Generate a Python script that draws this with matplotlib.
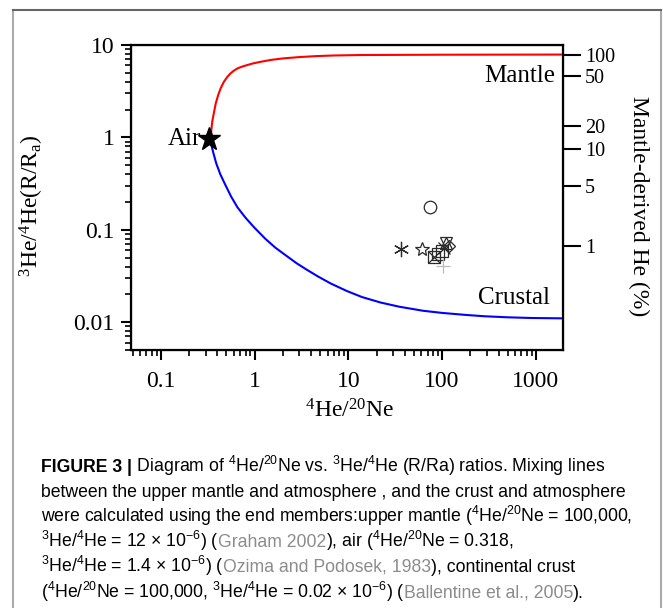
import matplotlib
matplotlib.use('Agg')
import matplotlib.pyplot as plt
from matplotlib.lines import Line2D
from matplotlib.ticker import FixedLocator, NullLocator, FixedFormatter

plt.rcParams['font.family'] = ['Liberation Serif', 'DejaVu Serif']
plt.rcParams['mathtext.fontset'] = 'stix'

# --- Data ---

# mixing line air -> upper mantle (4He/20Ne, R/Ra)
mantle_x = [0.340, 0.345, 0.355, 0.370, 0.385, 0.410, 0.435, 0.470, 0.512, 0.550, 0.598,
            0.660, 0.764, 0.95, 1.16, 1.5, 2.04, 3.0, 4.64, 7.0, 13.4, 100, 1950]
mantle_y = [0.928, 1.2, 1.53, 1.9, 2.34, 2.9, 3.41, 4.0, 4.52, 4.9, 5.26,
            5.6, 5.91, 6.3, 6.58, 6.9, 7.17, 7.4, 7.59, 7.7, 7.79, 7.85, 7.88]

# mixing line air -> crust
crust_x = [0.340, 0.360, 0.390, 0.430, 0.480, 0.560, 0.656, 0.80, 0.99, 1.30, 1.66, 2.20,
           2.80, 3.60, 4.68, 6.5, 9.69, 14, 22.2, 35, 62.5, 100, 176, 280, 491, 900, 1950]
crust_y = [0.889, 0.70, 0.522, 0.40, 0.316, 0.23, 0.175, 0.135, 0.106, 0.080, 0.0642, 0.052,
           0.0435, 0.037, 0.0315, 0.0262, 0.0217, 0.0187, 0.0163, 0.0147, 0.0133, 0.0126,
           0.0120, 0.0116, 0.0113, 0.0111, 0.0110]

air_x, air_y = [0.33], [0.95]

# samples
circle_x, circle_y = [74.5], [0.178]
asterisk_x, asterisk_y = [36.6], [0.062]
openstar_x, openstar_y = [60.8], [0.062]
boxx_x, boxx_y = [82.2], [0.0509]
square_x, square_y = [90.6, 99.3], [0.0552, 0.0591]
hexa_x, hexa_y = [110], [0.0728]
diamond_x, diamond_y = [119.6], [0.067]
cross_x, cross_y = [105], [0.064]
plus_x, plus_y = [101.6], [0.0406]

# right axis: mantle-derived He (%) at R/Ra positions
mantle_pct_pos = [7.79, 4.64, 1.32, 0.74, 0.30, 0.067]
mantle_pct_labels = ['100', '50', '20', '10', '5', '1']

W, H = 663, 608
fig = plt.figure(figsize=(W / 100, H / 100), dpi=100)
fig.patch.set_facecolor('white')

# --- page frame ---
fig.add_artist(Line2D([13 / W, 13 / W], [0, 1 - 10 / H], color='#aaaaaa', lw=1.5))
fig.add_artist(Line2D([661 / W, 661 / W], [0, 1 - 10 / H], color='#aaaaaa', lw=1.5))
fig.add_artist(Line2D([13 / W, 661 / W], [1 - 10 / H, 1 - 10 / H], color='#666666', lw=1.5))

# --- chart ---
ax = fig.add_axes([131 / W, 1 - 350 / H, 432 / W, 305 / H])
ax.set_xscale('log')
ax.set_yscale('log')
ax.set_xlim(0.048, 1950)
ax.set_ylim(0.005, 10)

ax.plot(mantle_x, mantle_y, color='red', lw=1.5)
ax.plot(crust_x, crust_y, color='blue', lw=1.5)
ax.plot(air_x, air_y, marker='*', ms=17, color='black', ls='none', zorder=5)

mk = dict(ls='none', mfc='none', mew=0.9, color='#2a2a2a')
ax.plot(circle_x, circle_y, marker='o', ms=9, **mk)
ax.plot(asterisk_x, asterisk_y, marker=(6, 2, 0), ms=11, **mk)
ax.plot(openstar_x, openstar_y, marker='*', ms=10, **mk)
ax.plot(boxx_x, boxx_y, marker='s', ms=8, **mk)
ax.plot(boxx_x, boxx_y, marker='x', ms=8, **mk)
ax.plot(square_x, square_y, marker='s', ms=8, **mk)
ax.plot(hexa_x, hexa_y, marker='^', ms=8, **mk)
ax.plot(hexa_x, hexa_y, marker='v', ms=8, **mk)
ax.plot(diamond_x, diamond_y, marker='D', ms=6, **mk)
ax.plot(cross_x, cross_y, marker='x', ms=8, **mk)
ax.plot(plus_x, plus_y, marker='+', ms=10, ls='none', mew=0.9, color='#bbbbbb')

ax.text(0.27, 0.97, 'Air', ha='right', va='center', fontsize=18)
ax.text(0.981, 0.900, 'Mantle', transform=ax.transAxes, ha='right', va='center', fontsize=18)
ax.text(0.970, 0.172, 'Crustal', transform=ax.transAxes, ha='right', va='center', fontsize=18)

ax.xaxis.set_major_locator(FixedLocator([0.1, 1, 10, 100, 1000]))
ax.xaxis.set_major_formatter(FixedFormatter(['0.1', '1', '10', '100', '1000']))
ax.yaxis.set_major_locator(FixedLocator([0.01, 0.1, 1, 10]))
ax.yaxis.set_major_formatter(FixedFormatter(['0.01', '0.1', '1', '10']))
ax.tick_params(which='major', direction='out', length=7, width=1.5, labelsize=17, pad=5)
ax.tick_params(axis='x', which='major', pad=8)
ax.tick_params(which='minor', direction='out', length=4.5, width=1.2)
for s in ax.spines.values():
    s.set_linewidth(1.6)

ax.set_xlabel(r'$\mathregular{^4}$He/$\mathregular{^{20}}$Ne', fontsize=17)
ax.xaxis.set_label_coords(0.507, -0.16)
ax.set_ylabel(r'$\mathregular{^3}$He/$\mathregular{^4}$He(R/R$\mathregular{_a}$)', fontsize=17)
ax.yaxis.set_label_coords(-0.196, 0.472)

ax2 = ax.twinx()
ax2.set_yscale('log')
ax2.set_ylim(ax.get_ylim())
ax2.yaxis.set_major_locator(FixedLocator(mantle_pct_pos))
ax2.yaxis.set_major_formatter(FixedFormatter(mantle_pct_labels))
ax2.yaxis.set_minor_locator(NullLocator())
ax2.tick_params(direction='out', length=13, width=1.5, labelsize=14.5, pad=3)
ax2.set_ylabel('Mantle-derived He (%)', fontsize=17, rotation=270, va='bottom')
ax2.yaxis.set_label_coords(1.150, 0.472)

# --- caption ---
renderer = fig.canvas.get_renderer()
sans = ['Liberation Sans', 'DejaVu Sans']
cap_size = 12.7
gray = '#8c8c8c'


def seg_width(s, **kw):
    t = fig.text(0, 0, s + 'l', **kw)
    t2 = fig.text(0, 0, 'l', **kw)
    w = t.get_window_extent(renderer).width - t2.get_window_extent(renderer).width
    t.remove()
    t2.remove()
    return w


sup4 = r'$\mathregular{^4}$'
sup3 = r'$\mathregular{^3}$'
sup20 = r'$\mathregular{^{20}}$'
sup6 = r'$\mathregular{^{-6}}$'

caption = [
    [('FIGURE 3 |', 'black', 'bold'),
     (' Diagram of ' + sup4 + 'He/' + sup20 + 'Ne vs. ' + sup3 + 'He/' + sup4
      + 'He (R/Ra) ratios. Mixing lines', 'black', 'normal')],
    [('between the upper mantle and atmosphere , and the crust and atmosphere', 'black', 'normal')],
    [('were calculated using the end members:upper mantle (' + sup4 + 'He/' + sup20
      + 'Ne = 100,000,', 'black', 'normal')],
    [(sup3 + 'He/' + sup4 + 'He = 12 \u00d7 10' + sup6 + ') (', 'black', 'normal'),
     ('Graham 2002', gray, 'normal'),
     ('), air (' + sup4 + 'He/' + sup20 + 'Ne = 0.318,', 'black', 'normal')],
    [(sup3 + 'He/' + sup4 + 'He = 1.4 \u00d7 10' + sup6 + ') (', 'black', 'normal'),
     ('Ozima and Podosek, 1983', gray, 'normal'),
     ('), continental crust', 'black', 'normal')],
    [('(' + sup4 + 'He/' + sup20 + 'Ne = 100,000, ' + sup3 + 'He/' + sup4
      + 'He = 0.02 \u00d7 10' + sup6 + ') (', 'black', 'normal'),
     ('Ballentine et al., 2005', gray, 'normal'),
     (').', 'black', 'normal')],
]
baselines = [472, 497, 522, 547, 572, 598]

for line, yb in zip(caption, baselines):
    x = 41
    for s, c, wt in line:
        kw = dict(family=sans, fontsize=cap_size, weight=wt)
        fig.text(x / W, 1 - yb / H, s, color=c, va='baseline', ha='left', **kw)
        x += seg_width(s, **kw)

fig.savefig('out.png', dpi=100)
